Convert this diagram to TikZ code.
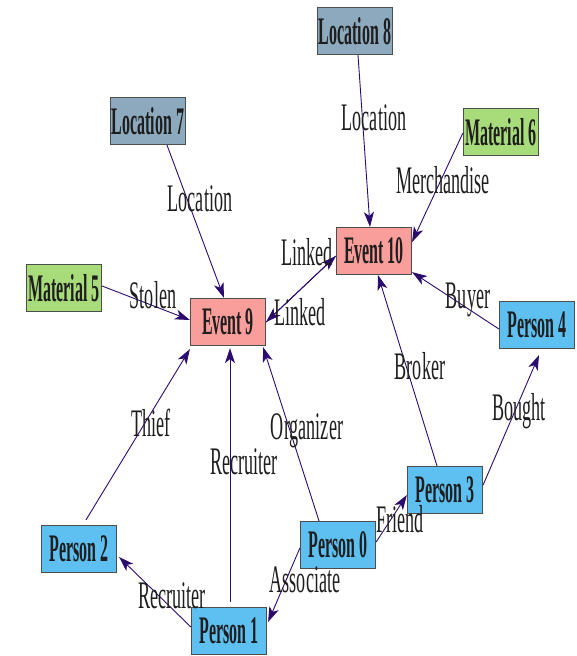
\documentclass[tikz,border=0pt]{standalone}
\usepackage{fontspec}
\setmainfont{Liberation Serif}
\usepackage{graphicx}
\usetikzlibrary{arrows.meta,calc}

\definecolor{locfill}{HTML}{8DA9BE}
\definecolor{matfill}{HTML}{A8DC7A}
\definecolor{evfill}{HTML}{F99E9A}
\definecolor{perfill}{HTML}{5EBFF1}
\definecolor{edgecol}{HTML}{2C0B6E}
\definecolor{boxline}{HTML}{4D4D4D}
\definecolor{inktext}{HTML}{1E1E1E}

% condensed lettering for boxes and edge labels
\newcommand{\boxtext}[1]{\scalebox{0.41}[1]{\bfseries #1}}
\newcommand{\edgetext}[1]{\scalebox{0.465}[1]{#1}}

\begin{document}
\begin{tikzpicture}[x=1pt,y=-1pt,
  entity/.style={draw=boxline, line width=1.2pt, rectangle,
    minimum width=75pt, minimum height=47pt, inner sep=0pt,
    text=inktext, font=\fontsize{39}{39}\selectfont},
  loc/.style={entity, fill=locfill},
  mat/.style={entity, fill=matfill},
  ev/.style={entity, fill=evfill},
  per/.style={entity, fill=perfill},
  rel/.style={draw=edgecol, line width=0.9pt,
    -{Stealth[length=15pt,width=10pt,inset=4pt]}},
  lab/.style={inner sep=0pt, text=inktext, font=\fontsize{39}{39}\selectfont}
]
\useasboundingbox (0,0) rectangle (576,656);

% entities
\node[loc] (l8) at (355,31)  {\boxtext{Location 8}};
\node[mat] (m6) at (501,132) {\boxtext{Material 6}};
\node[loc] (l7) at (148,121) {\boxtext{Location 7}};
\node[ev]  (e10) at (374,251) {\boxtext{Event 10}};
\node[mat] (m5) at (64,288)  {\boxtext{Material 5}};
\node[ev]  (e9) at (228,322) {\boxtext{Event 9}};
\node[per] (p4) at (537,325) {\boxtext{Person 4}};
\node[per] (p3) at (445,490) {\boxtext{Person 3}};
\node[per] (p0) at (338,545) {\boxtext{Person 0}};
\node[per] (p2) at (79,549)  {\boxtext{Person 2}};
\node[per] (p1) at (229,631) {\boxtext{Person 1}};

% relations
\draw[rel] ($(l8.south)+(3,0)$) -- ($(e10.north)+(-4,0)$);
\draw[rel] ($(m6.west)+(0,1)$) -- ($(e10.east)+(0,-9)$);
\draw[rel] ($(l7.south)+(19,0)$) -- ($(e9.north)+(-4,0)$);
\draw[rel] ($(m5.east)+(0,-2)$) -- ($(e9.west)+(0,-2)$);
\draw[rel] (e9.east) -- ($(e10.west)+(0,5)$);
\draw[rel] ($(e10.west)+(0,5)$) -- (e9.east);
\draw[rel] ($(p4.west)+(0,4)$) -- ($(e10.south east)+(0,-3)$);
\draw[rel] ($(p3.north)+(-8,0)$) -- ($(e10.south)+(4,0)$);
\draw[rel] ($(p3.east)+(0,-5)$) -- ($(p4.south)+(2,6)$);
\draw[rel] ($(p2.north)+(7,-5)$) -- ($(e9.south west)+(0,3)$);
\draw[rel] ($(p1.north)+(1,-5)$) -- ($(e9.south)+(2,2)$);
\draw[rel] ($(p0.north)+(-19,0)$) -- ($(e9.south east)+(-3,1)$);
\draw[rel] ($(p0.east)+(0,-3)$) -- ($(p3.west)+(0,5)$);
\draw[rel] ($(p0.west)+(0,3)$) -- ($(p1.east)+(1,-9)$);
\draw[rel] ($(p1.west)+(0,-4)$) -- ($(p2.east)+(2,8)$);

% relation labels
\node[lab] (t1)  at (374,118) {\edgetext{Location}};
\node[lab] (t2)  at (443,180) {\edgetext{Merchandise}};
\node[lab] (t3)  at (200,199) {\edgetext{Location}};
\node[lab] (t4)  at (153,295) {\edgetext{Stolen}};
\node[lab] (t5)  at (307,252) {\edgetext{Linked}};
\node[lab] (t6)  at (300,312) {\edgetext{Linked}};
\node[lab] (t7)  at (468,300) {\edgetext{Buyer}};
\node[lab] (t8)  at (420,366) {\edgetext{Broker}};
\node[lab] (t9)  at (519,411) {\edgetext{Bought}};
\node[lab] (t10) at (151,423) {\edgetext{Thief}};
\node[lab] (t11) at (244,462) {\edgetext{Recruiter}};
\node[lab] (t12) at (307,431) {\edgetext{Organizer}};
\node[lab] (t13) at (400,519) {\edgetext{Friend}};
\node[lab] (t14) at (305,580) {\edgetext{Associate}};
\node[lab] (t15) at (172,596) {\edgetext{Recruiter}};
\end{tikzpicture}
\end{document}
